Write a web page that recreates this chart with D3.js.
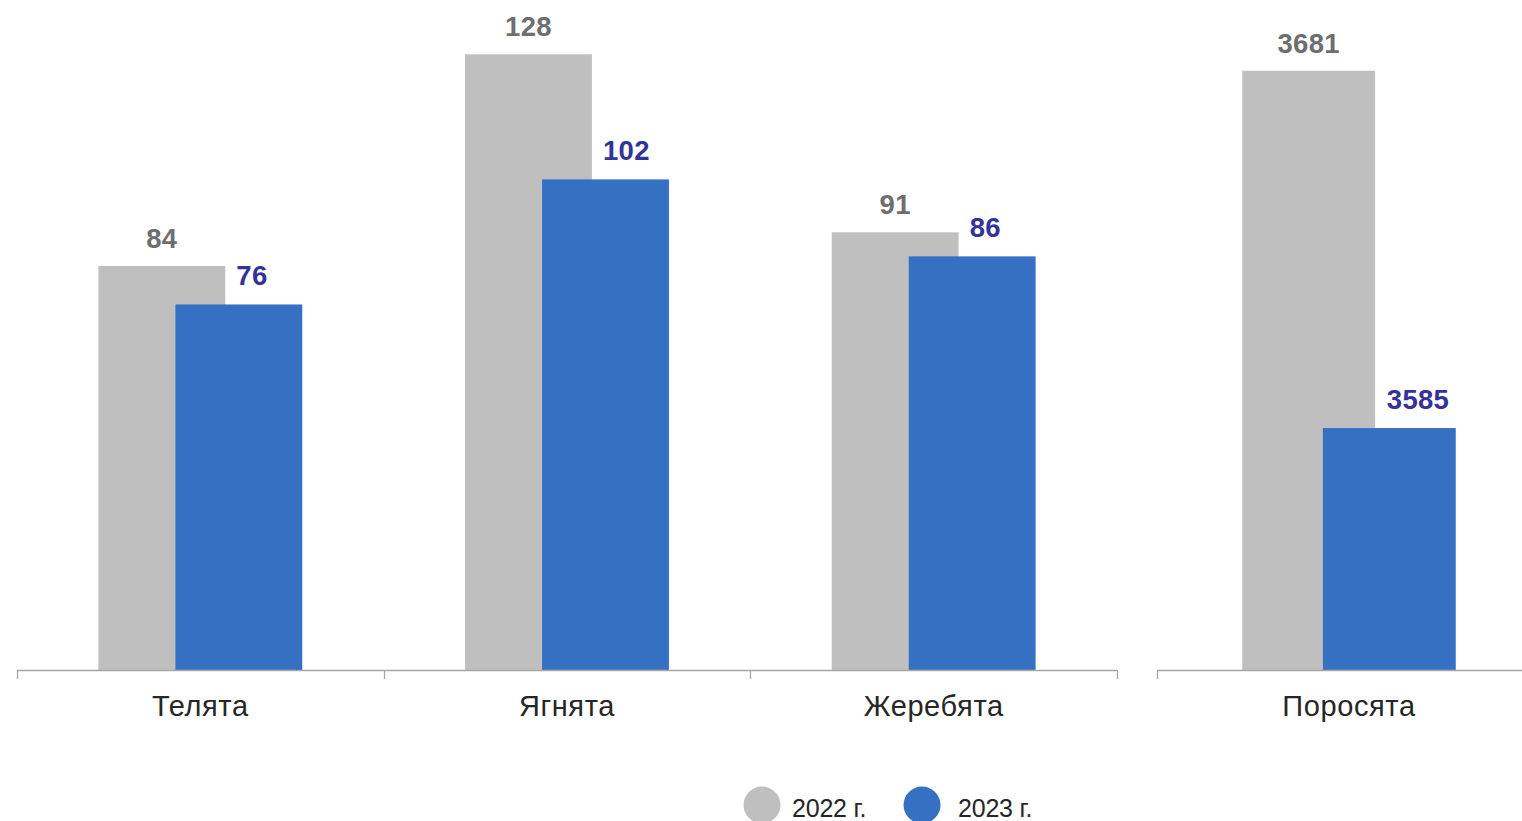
<!DOCTYPE html>
<html><head><meta charset="utf-8">
<script src="https://cdn.jsdelivr.net/npm/d3@7"></script>
<style>
html,body{margin:0;padding:0;background:#fff;overflow:hidden;}
text{font-family:"Liberation Sans",Arial,sans-serif;}
</style></head>
<body>
<svg id="chart" width="1522" height="821"></svg>
<script>
const categoriesLeft = ["Телята", "Ягнята", "Жеребята"];
const categoriesRight = ["Поросята"];
const values2022Left = [84, 128, 91];
const values2023Left = [76, 102, 86];
const values2022Right = [3681];
const values2023Right = [3585];
const seriesNames = ["2022 г.", "2023 г."];

const colors = {g:"#bfbfbf", b:"#3570c3", gLab:"#6e6e6e", bLab:"#333399", cat:"#262626", axis:"#a6a6a6"};
const svg = d3.select("#chart");
const baseY = 670;

function panel(cats, v22, v23, xRange, yDomain) {
  const x = d3.scaleBand().domain(cats).range(xRange);
  const y = d3.scaleLinear().domain(yDomain).range([baseY, 0]);
  const bw = x.bandwidth();
  const w = bw * 0.346, off = bw * 0.105;
  const g = svg.append("g");
  const data = cats.map((c, i) => ({c, a: v22[i], b: v23[i]}));
  g.selectAll(".ga").data(data).enter().append("rect")
    .attr("x", d => x(d.c) + bw/2 - off - w/2).attr("width", w)
    .attr("y", d => y(d.a)).attr("height", d => baseY - y(d.a)).attr("fill", colors.g);
  g.selectAll(".gb").data(data).enter().append("rect")
    .attr("x", d => x(d.c) + bw/2 + off - w/2).attr("width", w)
    .attr("y", d => y(d.b)).attr("height", d => baseY - y(d.b)).attr("fill", colors.b);
  g.selectAll(".la").data(data).enter().append("text")
    .attr("x", d => x(d.c) + bw/2 - off).attr("y", d => y(d.a) - 18)
    .attr("text-anchor", "middle").attr("font-size", 27.5).attr("font-weight", "bold")
    .attr("letter-spacing", 0.3)
    .attr("fill", colors.gLab).text(d => d.a);
  g.selectAll(".lb").data(data).enter().append("text")
    .attr("x", d => x(d.c) + bw/2 + off - 2.5).attr("y", d => y(d.b) - 19)
    .attr("text-anchor", "start").attr("font-size", 27.5).attr("font-weight", "bold")
    .attr("letter-spacing", 0.3)
    .attr("fill", colors.bLab).text(d => d.b);
  g.append("line").attr("x1", xRange[0]).attr("x2", xRange[1])
    .attr("y1", baseY + 0.5).attr("y2", baseY + 0.5).attr("stroke", colors.axis).attr("stroke-width", 1.3);
  const edges = cats.map(c => x(c)).concat([x(cats[cats.length-1]) + bw]);
  g.selectAll(".tk").data(edges).enter().append("line")
    .attr("x1", d => Math.round(d) + 0.5).attr("x2", d => Math.round(d) + 0.5)
    .attr("y1", baseY).attr("y2", baseY + 9).attr("stroke", colors.axis).attr("stroke-width", 1.3);
  g.selectAll(".cl").data(cats).enter().append("text")
    .attr("x", d => x(d) + bw/2).attr("y", baseY + 46)
    .attr("text-anchor", "middle").attr("font-size", 29).attr("letter-spacing", 0.6)
    .attr("fill", colors.cat).text(d => d);
}

panel(categoriesLeft, values2022Left, values2023Left, [17, 1117], [0, 139.3]);
panel(categoriesRight, values2022Right, values2023Right, [1157, 1541], [3520, 3700]);

const leg = svg.append("g");
const legCircleX = [762, 922];
const legTextX = [792, 958];
seriesNames.forEach((s, i) => {
  leg.append("circle").attr("cx", legCircleX[i]).attr("cy", 805).attr("r", 18.5)
    .attr("fill", i === 0 ? colors.g : colors.b);
  leg.append("text").attr("x", legTextX[i]).attr("y", 817).attr("font-size", 25)
    .attr("letter-spacing", -0.2).attr("fill", colors.cat).text(s);
});
</script>
</body></html>
